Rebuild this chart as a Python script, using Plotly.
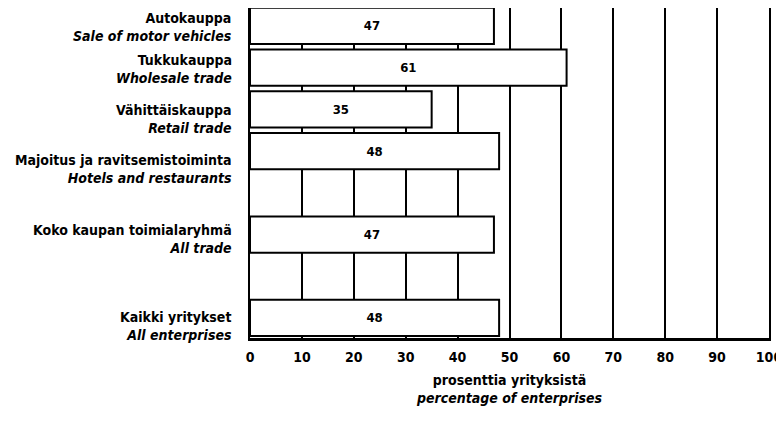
import plotly.graph_objects as go

categories_fi = ["Autokauppa", "Tukkukauppa", "Vähittäiskauppa", "Majoitus ja ravitsemistoiminta",
                 "Koko kaupan toimialaryhmä", "Kaikki yritykset"]
categories_en = ["Sale of motor vehicles", "Wholesale trade", "Retail trade", "Hotels and restaurants",
                 "All trade", "All enterprises"]
values = [47, 61, 35, 48, 47, 48]
positions = [0, 1, 2, 3, 5, 7]
x_ticks = [0, 10, 20, 30, 40, 50, 60, 70, 80, 90, 100]

# layout: vertical placement of each two-line category label (axis units)
label_y = [0.02, 1.03, 2.23, 3.43, 5.11, 7.2]

FONT = "DejaVu Sans Condensed, Liberation Sans Narrow, Arial Narrow, sans-serif"

fig = go.Figure(go.Bar(
    x=values, y=positions, orientation="h", width=0.87,
    marker=dict(color="white", line=dict(color="black", width=2)),
    text=[f"<b>{v}</b>" for v in values], textposition="inside", insidetextanchor="middle",
    textfont=dict(color="black", size=13, family=FONT),
    cliponaxis=False,
))

for fi, en, ly in zip(categories_fi, categories_en, label_y):
    fig.add_annotation(
        x=0, xref="paper", xanchor="right", xshift=-16,
        y=ly, yref="y", yanchor="middle",
        text=f"<b>{fi}</b><br><b><i>{en}</i></b>", align="right",
        showarrow=False, font=dict(size=14, family=FONT, color="black"),
    )

# page body has an 8px default margin, so the figure is sized to fit the window
fig.update_layout(
    width=776, height=418,
    margin=dict(l=242, r=15, t=0, b=88),
    paper_bgcolor="white", plot_bgcolor="white",
    font=dict(family=FONT, color="black", size=14),
    showlegend=False,
    xaxis=dict(
        range=[0, 100], tickvals=x_ticks, ticktext=[f"<b>{t}</b>" for t in x_ticks],
        showgrid=True, gridcolor="black", gridwidth=1.5, zeroline=False,
        showline=True, linecolor="black", linewidth=3, mirror=True,
        ticks="", ticklabelstandoff=4, automargin=False,
        tickfont=dict(size=14),
        title=dict(text="<b>prosenttia yrityksistä</b><br><b><i>percentage of enterprises</i></b>",
                   font=dict(size=14), standoff=12),
    ),
    yaxis=dict(
        range=[7.48, -0.43], tickvals=positions, showticklabels=False,
        showgrid=False, zeroline=False, automargin=False,
        showline=True, linecolor="black", linewidth=2, mirror=True,
        ticks="",
    ),
)

fig.write_html("out.html")
